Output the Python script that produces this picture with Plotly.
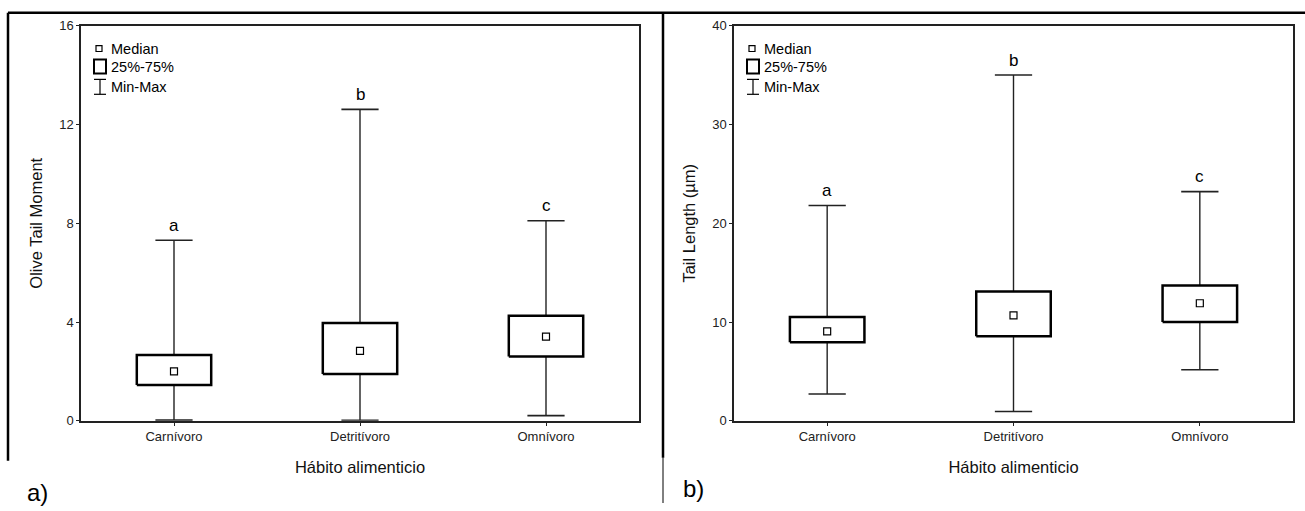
import plotly.graph_objects as go

categories = ["Carnívoro", "Detritívoro", "Omnívoro"]
group_letters = ["a", "b", "c"]

# Panel a: Olive Tail Moment
otm_min = [0.03, 0.02, 0.21]
otm_q1 = [1.45, 1.90, 2.61]
otm_median = [2.00, 2.83, 3.41]
otm_q3 = [2.67, 3.96, 4.25]
otm_max = [7.31, 12.61, 8.10]

# Panel b: Tail Length (µm)
tl_min = [2.72, 0.94, 5.17]
tl_q1 = [7.96, 8.56, 10.00]
tl_median = [9.06, 10.67, 11.90]
tl_q3 = [10.50, 13.10, 13.70]
tl_max = [21.80, 35.00, 23.20]

otm_ticks = [0, 4, 8, 12, 16]
tl_ticks = [0, 10, 20, 30, 40]

W, H = 1305, 511
FONT = "Liberation Sans, Arial, sans-serif"
BOX_HALF = 0.2
CAP_HALF = 0.1
Y_OFF, Y_SCALE = 6.3, 0.975


def px(x):
    return x / W


def py(y):
    y_int = (y - Y_OFF) / Y_SCALE
    return min(1.0, max(0.0, 1 - y_int / H))


fig = go.Figure()


def add_panel(xa, ya, mn, q1, med, q3, mx):
    pos = list(range(len(categories)))
    wx, wy = [], []
    for i in pos:
        wx += [i, i, None, i, i, None]
        wy += [mn[i], q1[i], None, q3[i], mx[i], None]
    fig.add_trace(go.Scatter(x=wx, y=wy, mode="lines", xaxis=xa, yaxis=ya,
                             line=dict(color="#222", width=1.4), hoverinfo="skip", showlegend=False))
    cx, cy = [], []
    for i in pos:
        cx += [i - CAP_HALF, i + CAP_HALF, None, i - CAP_HALF, i + CAP_HALF, None]
        cy += [mn[i], mn[i], None, mx[i], mx[i], None]
    fig.add_trace(go.Scatter(x=cx, y=cy, mode="lines", xaxis=xa, yaxis=ya,
                             line=dict(color="#222", width=1.6), hoverinfo="skip", showlegend=False))
    bx, by = [], []
    for i in pos:
        bx += [i - BOX_HALF, i + BOX_HALF, i + BOX_HALF, i - BOX_HALF, i - BOX_HALF, None]
        by += [q1[i], q1[i], q3[i], q3[i], q1[i], None]
    fig.add_trace(go.Scatter(x=bx, y=by, mode="lines", xaxis=xa, yaxis=ya, fill="toself",
                             fillcolor="white", line=dict(color="black", width=2.5),
                             hoverinfo="skip", showlegend=False))
    fig.add_trace(go.Scatter(x=pos, y=med, mode="markers", xaxis=xa, yaxis=ya,
                             marker=dict(symbol="square", size=7, color="white",
                                         line=dict(color="black", width=1.2)),
                             hoverinfo="skip", showlegend=False))
    for i in pos:
        fig.add_annotation(x=i, y=mx[i], xref=xa, yref=ya, text=group_letters[i],
                           showarrow=False, yanchor="middle", yshift=15,
                           font=dict(family=FONT, size=17, color="black"))


add_panel("x", "y", otm_min, otm_q1, otm_median, otm_q3, otm_max)
add_panel("x2", "y2", tl_min, tl_q1, tl_median, tl_q3, tl_max)

line_common = dict(showgrid=False, zeroline=False, showline=True, linecolor="#222", linewidth=1.5,
                   tickcolor="#222", ticklen=3)
xaxis_common = dict(
    range=[-0.5, 2.5], tickmode="array", tickvals=[0, 1, 2], ticktext=categories,
    mirror=True, ticks="outside",
    tickfont=dict(family=FONT, size=13, color="#222"),
    title=dict(text="Hábito alimenticio", font=dict(family=FONT, size=16.5, color="#111"), standoff=18),
    **line_common,
)
yaxis_common = dict(
    mirror=True, ticks="outside",
    tickfont=dict(family=FONT, size=13, color="#222"),
    **line_common,
)
top_common = dict(range=[-0.5, 2.5], tickmode="array", tickvals=[0, 1, 2], side="top",
                  ticks="inside", showticklabels=False, showgrid=False, zeroline=False,
                  tickcolor="#222", ticklen=3, showline=False)
right_common = dict(side="right", ticks="inside", showticklabels=False, showgrid=False,
                    zeroline=False, tickcolor="#222", ticklen=3, showline=False)

fig.update_layout(
    width=W, height=H, margin=dict(l=0, r=0, t=0, b=0),
    paper_bgcolor="white", plot_bgcolor="white",
    xaxis=dict(domain=[px(81), px(639)], anchor="y", **xaxis_common),
    xaxis2=dict(domain=[px(734), px(1293)], anchor="y2", **xaxis_common),
    yaxis=dict(domain=[py(422), py(25)], anchor="x", range=[0, 16], tickvals=otm_ticks,
               title=dict(text="Olive Tail Moment", font=dict(family=FONT, size=16.5, color="#111"), standoff=12),
               **yaxis_common),
    yaxis2=dict(domain=[py(422), py(25)], anchor="x2", range=[0, 40], tickvals=tl_ticks,
                title=dict(text="Tail Length (µm)", font=dict(family=FONT, size=16.5, color="#111"), standoff=12),
                **yaxis_common),
    xaxis3=dict(overlaying="x", anchor="y", **top_common),
    xaxis4=dict(overlaying="x2", anchor="y2", **top_common),
    yaxis3=dict(overlaying="y", anchor="x", range=[0, 16], tickvals=otm_ticks, **right_common),
    yaxis4=dict(overlaying="y2", anchor="x2", range=[0, 40], tickvals=tl_ticks, **right_common),
    showlegend=False,
)

shapes = [
    dict(type="line", xref="paper", yref="paper", x0=px(8), x1=px(1305), y0=py(12), y1=py(12),
         line=dict(color="black", width=2.5)),
    dict(type="line", xref="paper", yref="paper", x0=px(8), x1=px(8), y0=py(12), y1=py(462),
         line=dict(color="black", width=2.5)),
    dict(type="line", xref="paper", yref="paper", x0=px(663), x1=px(663), y0=py(12), y1=py(459),
         line=dict(color="black", width=2.5)),
    dict(type="line", xref="paper", yref="paper", x0=px(663), x1=px(663), y0=py(459), y1=py(510),
         line=dict(color="black", width=1)),
]

for left in (81, 734):
    shapes += [
        dict(type="rect", xref="paper", yref="paper", x0=px(left + 15), x1=px(left + 21),
             y0=py(51), y1=py(45), line=dict(color="black", width=1.2), fillcolor="white"),
        dict(type="rect", xref="paper", yref="paper", x0=px(left + 13), x1=px(left + 25),
             y0=py(73), y1=py(59), line=dict(color="black", width=2), fillcolor="white"),
        dict(type="line", xref="paper", yref="paper", x0=px(left + 19), x1=px(left + 19),
             y0=py(94), y1=py(79), line=dict(color="black", width=1.2)),
        dict(type="line", xref="paper", yref="paper", x0=px(left + 13), x1=px(left + 25),
             y0=py(79), y1=py(79), line=dict(color="black", width=1.2)),
        dict(type="line", xref="paper", yref="paper", x0=px(left + 13), x1=px(left + 25),
             y0=py(94), y1=py(94), line=dict(color="black", width=1.2)),
    ]
    for txt, yy in (("Median", 48), ("25%-75%", 67), ("Min-Max", 87)):
        fig.add_annotation(x=px(left + 28), y=py(yy), xref="paper", yref="paper", text=txt,
                           showarrow=False, xanchor="left", yanchor="middle",
                           font=dict(family=FONT, size=14.5, color="black"))

fig.update_layout(shapes=shapes)

fig.add_annotation(x=px(25), y=py(494), xref="paper", yref="paper", text="a)", showarrow=False,
                   xanchor="left", yanchor="middle", font=dict(family=FONT, size=24, color="black"))
fig.add_annotation(x=px(681), y=py(490), xref="paper", yref="paper", text="b)", showarrow=False,
                   xanchor="left", yanchor="middle", font=dict(family=FONT, size=24, color="black"))

fig.write_html("out.html", config={"displayModeBar": False},
               post_script="document.body.style.margin='0';document.body.style.overflow='hidden';")
